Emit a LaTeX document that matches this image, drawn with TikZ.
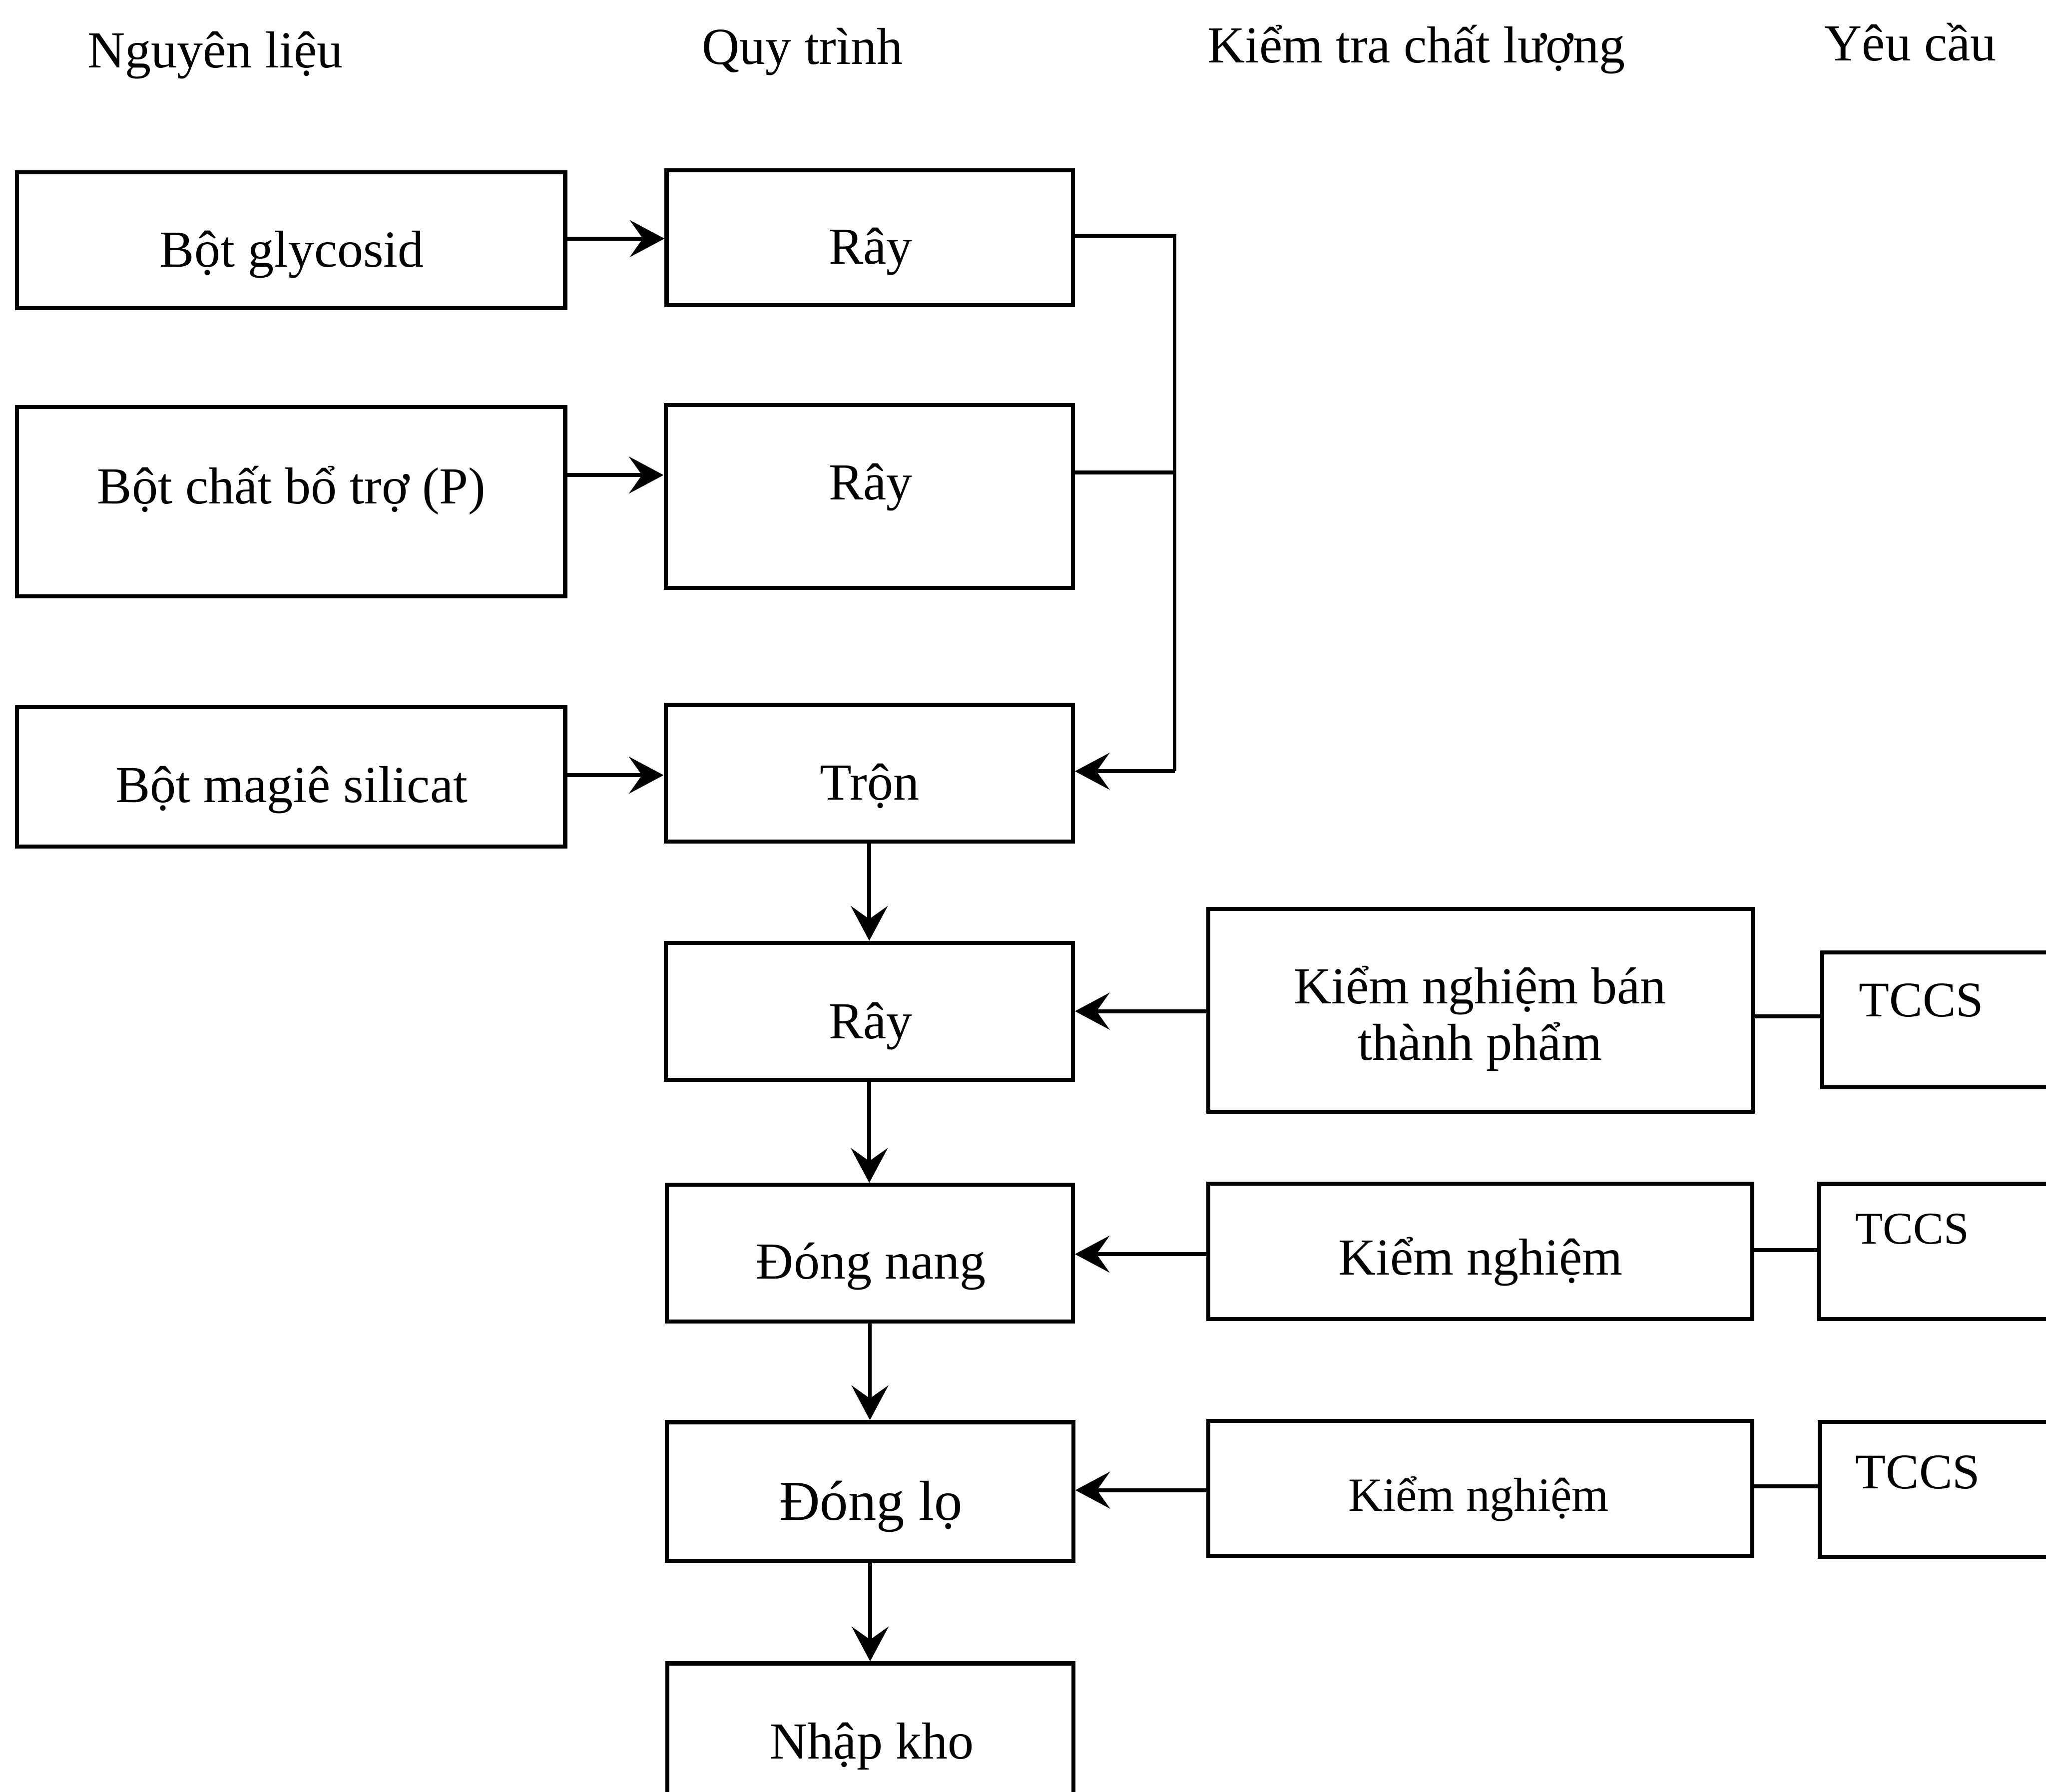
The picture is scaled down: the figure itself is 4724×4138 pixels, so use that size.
\documentclass[tikz,border=0pt]{standalone}
\usepackage{fontspec}
\setmainfont{Liberation Serif}
\usetikzlibrary{arrows.meta,fit}
\begin{document}
\begin{tikzpicture}[x=0.1pt,y=-0.1pt,
  box/.style={draw,line width=0.95pt,rectangle,inner sep=0pt},
  lbl/.style={anchor=base,inner sep=0pt,font=\fontsize{12pt}{14pt}\selectfont},
  conn/.style={line width=0.9pt},
  arr/.style={conn,-{Stealth[length=8pt,width=8.5pt,inset=3pt]}}]
\useasboundingbox (0,0) rectangle (4724,4138);
\clip (0,0) rectangle (4724,4138);
\fill[white] (0,0) rectangle (4724,4138);

% headers
\node[lbl] (h1) at (497,156) {Nguyên liệu};
\node[lbl] (h2) at (1853,148) {Quy trình};
\node[lbl] (h3) at (3270,145) {Kiểm tra chất lượng};
\node[lbl] (h4) at (4411,140) {Yêu cầu};

% boxes
\node[box,fit={(39,398) (1305,712)}] (bg) {};
\node[box,fit={(1539,393) (2477,705)}] (r1) {};
\node[box,fit={(39,940) (1305,1377)}] (bp) {};
\node[box,fit={(1537,935) (2477,1357)}] (r2) {};
\node[box,fit={(39,1633) (1305,1955)}] (bm) {};
\node[box,fit={(1537,1628) (2477,1943)}] (tr) {};
\node[box,fit={(1537,2177) (2477,2493)}] (r3) {};
\node[box,fit={(2790,2099) (4047,2567)}] (kb) {};
\node[box,fit={(4207,2199) (4850,2511)}] (t1) {};
\node[box,fit={(1540,2736) (2477,3052)}] (dn) {};
\node[box,fit={(2790,2733) (4046,3046)}] (k2) {};
\node[box,fit={(4200,2734) (4850,3046)}] (t2) {};
\node[box,fit={(1540,3284) (2478,3604)}] (dl) {};
\node[box,fit={(2790,3281) (4046,3594)}] (k3) {};
\node[box,fit={(4202,3283) (4850,3595)}] (t3) {};
\node[box,fit={(1541,3841) (2478,4300)}] (nk) {};

% texts
\node[lbl] (tbg) at (674,617) {Bột glycosid};
\node[lbl] (tr1) at (2010,610) {Rây};
\node[lbl] (tbp) at (673,1163) {Bột chất bổ trợ (P)};
\node[lbl] (tr2) at (2010,1154) {Rây};
\node[lbl] (tbm) at (673,1853) {Bột magiê silicat};
\node[lbl] (ttr) at (2008,1847) {Trộn};
\node[lbl] (tr3) at (2010,2398) {Rây};
\node[lbl] (tkb1) at (3417,2317) {Kiểm nghiệm bán};
\node[lbl] (tkb2) at (3417,2448) {thành phẩm};
\node[lbl] (tt1) at (4436,2347) {\fontsize{11.5pt}{13pt}\selectfont TCCS};
\node[lbl] (tdn) at (2011,2953) {Đóng nang};
\node[lbl] (tk2) at (3418,2944) {Kiểm nghiệm};
\node[lbl] (tt2) at (4415,2872) {\fontsize{10.5pt}{12pt}\selectfont TCCS};
\node[lbl] (tdl) at (2011,3510) {\fontsize{13pt}{15pt}\selectfont Đóng lọ};
\node[lbl] (tk3) at (3414,3489) {\fontsize{11pt}{13pt}\selectfont Kiểm nghiệm};
\node[lbl] (tt3) at (4428,3437) {\fontsize{11.5pt}{13pt}\selectfont TCCS};
\node[lbl] (tnk) at (2013,4061) {Nhập kho};

% input arrows
\draw[arr] (bg.east |- 0,551) -- (r1.west |- 0,551);
\draw[arr] (bp.east |- 0,1097) -- (r2.west |- 0,1097);
\draw[arr] (bm.east |- 0,1790) -- (tr.west |- 0,1790);

% merge of sieved powders
\coordinate (jx) at (2712,545);
\draw[conn] (r1.east |- 0,545) -- (jx) -- (jx |- 0,1781);
\draw[arr] (jx |- 0,1781) -- (tr.east |- 0,1781);
\draw[conn] (r2.east |- 0,1091) -- (jx |- 0,1091);

% main flow
\draw[arr] (tr.south) -- (tr.south |- r3.north);
\draw[arr] (r3.south) -- (r3.south |- dn.north);
\draw[arr] (dn.south) -- (dn.south |- dl.north);
\draw[arr] (dl.south) -- (dl.south |- nk.north);

% quality checks
\draw[arr] (kb.west |- 0,2335) -- (r3.east |- 0,2335);
\draw[arr] (k2.west |- 0,2896) -- (dn.east |- 0,2896);
\draw[arr] (k3.west |- 0,3441) -- (dl.east |- 0,3441);
\draw[conn] (kb.east |- 0,2347) -- (t1.west |- 0,2347);
\draw[conn] (k2.east |- 0,2887) -- (t2.west |- 0,2887);
\draw[conn] (k3.east |- 0,3432) -- (t3.west |- 0,3432);
\end{tikzpicture}
\end{document}
